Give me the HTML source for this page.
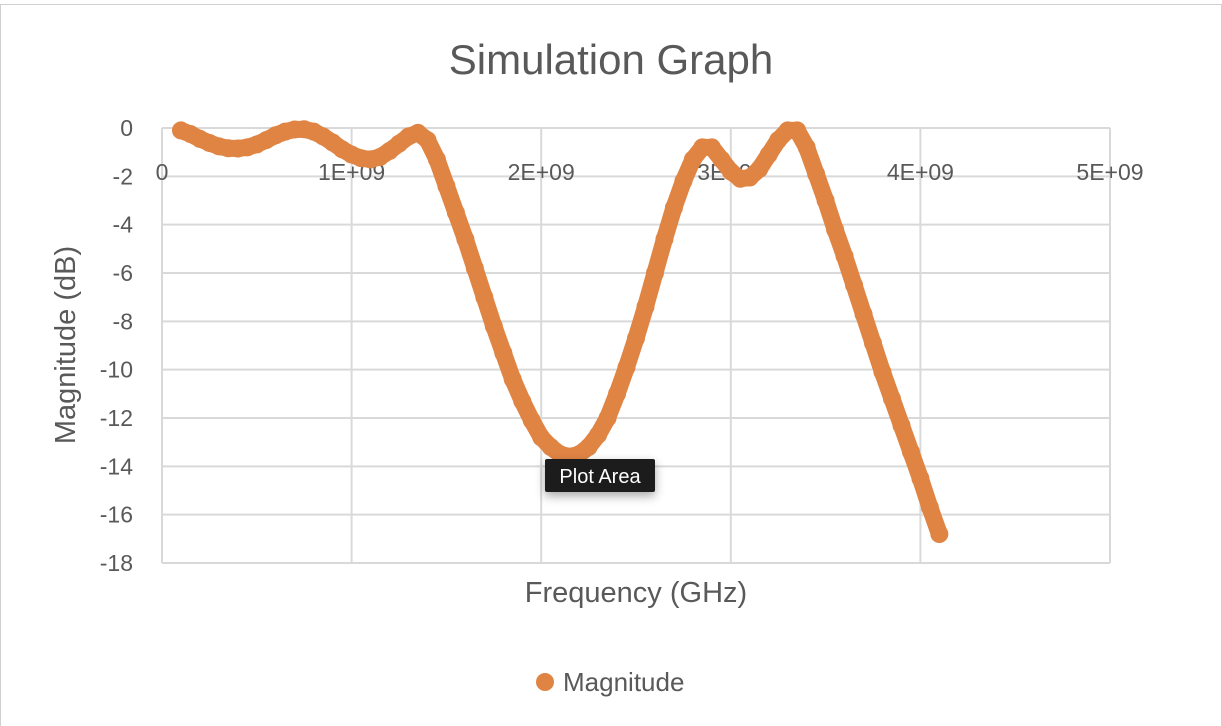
<!DOCTYPE html>
<html><head><meta charset="utf-8"><style>
body{margin:0;background:#fff;width:1222px;height:726px;overflow:hidden;font-family:"Liberation Sans",sans-serif}
</style></head><body>
<svg id="chart" width="1222" height="726" xmlns="http://www.w3.org/2000/svg" style="position:absolute;left:0;top:0">
<defs><filter id="sh" x="-30%" y="-50%" width="160%" height="220%"><feDropShadow dx="0" dy="4" stdDeviation="5" flood-color="#000" flood-opacity="0.35"/></filter></defs>
<rect x="0.5" y="4.5" width="1221" height="730" fill="#fff" stroke="#d0d0d0"/>
<text x="611" y="74" text-anchor="middle" font-size="42" fill="#595959">Simulation Graph</text>
<g id="grid"></g>
<g id="ylabels"></g>
<g id="xlabels"></g>
<path id="curve" fill="none" stroke="#E08444" stroke-width="17" stroke-linecap="round" stroke-linejoin="round"/>
<g id="points"></g>
<text transform="translate(75,345) rotate(-90)" text-anchor="middle" font-size="29" fill="#595959">Magnitude (dB)</text>
<text x="636" y="602" text-anchor="middle" font-size="29" fill="#595959">Frequency (GHz)</text>
<circle cx="545" cy="682" r="9" fill="#E08444"/>
<text x="563" y="691" font-size="26" fill="#595959">Magnitude</text>
<g>
<rect x="545" y="459" width="110" height="33" rx="2" fill="#1e1e1e" filter="url(#sh)"/>
<text x="600" y="483" text-anchor="middle" font-size="20" fill="#fff">Plot Area</text>
</g>
</svg>
<script>
const xTicks=[0,1e9,2e9,3e9,4e9,5e9];
const xTickLabels=["0","1E+09","2E+09","3E+09","4E+09","5E+09"];
const yTicks=[0,-2,-4,-6,-8,-10,-12,-14,-16,-18];
const freqs=[];
for(let i=0;i<=80;i++)freqs.push(Math.round((0.1+i*0.05)*100)/100*1e9);
const magnitudes=[-0.1,-0.25,-0.45,-0.62,-0.76,-0.84,-0.85,-0.8,-0.68,-0.5,-0.3,-0.15,-0.06,-0.05,-0.15,-0.35,-0.6,-0.88,-1.1,-1.25,-1.3,-1.2,-0.95,-0.65,-0.35,-0.2,-0.5,-1.3,-2.4,-3.5,-4.6,-5.8,-7.0,-8.2,-9.3,-10.4,-11.3,-12.1,-12.8,-13.2,-13.5,-13.6,-13.5,-13.2,-12.7,-12.0,-11.0,-9.9,-8.7,-7.4,-6.0,-4.6,-3.3,-2.2,-1.3,-0.8,-0.8,-1.3,-1.8,-2.1,-2.05,-1.7,-1.1,-0.5,-0.1,-0.1,-0.8,-1.9,-3.0,-4.2,-5.3,-6.5,-7.7,-8.9,-10.1,-11.2,-12.3,-13.4,-14.5,-15.7,-16.8];
const NS="http://www.w3.org/2000/svg";
const X0=162,X1=1110,Y0=128,Y1=563;
const xs=v=>X0+(v-0)/5e9*(X1-X0);
const ys=v=>Y0+(0-v)/18*(Y1-Y0);
function mk(tag,attrs,parent,txt){const e=document.createElementNS(NS,tag);for(const k in attrs)e.setAttribute(k,attrs[k]);if(txt!==undefined)e.textContent=txt;document.getElementById(parent).appendChild(e);return e;}
yTicks.forEach(t=>{
 const l=mk('line',{x1:X0,x2:X1,y1:ys(t),y2:ys(t),stroke:'#d9d9d9','stroke-width':2},'grid');
 
 
 const tx=mk('text',{x:133,y:ys(t)+8,'text-anchor':'end','font-size':23,fill:'#595959'},'ylabels',String(t));
 
 
});
xTicks.forEach((t,i)=>{
 const l=mk('line',{x1:xs(t),x2:xs(t),y1:Y0,y2:Y1,stroke:'#d9d9d9','stroke-width':2},'grid');
 
 
 const tx=mk('text',{x:xs(t),y:180,'text-anchor':'middle','font-size':23,fill:'#595959'},'xlabels',xTickLabels[i]);
 
 
});
document.getElementById('curve').setAttribute('d',freqs.map((f,i)=>(i?'L':'M')+xs(f)+' '+ys(magnitudes[i])).join(' '));
freqs.forEach((f,i)=>{
 const c=mk('circle',{cx:xs(f),cy:ys(magnitudes[i]),r:9,fill:'#E08444'},'points');
 
 
});
</script>
</body></html>
